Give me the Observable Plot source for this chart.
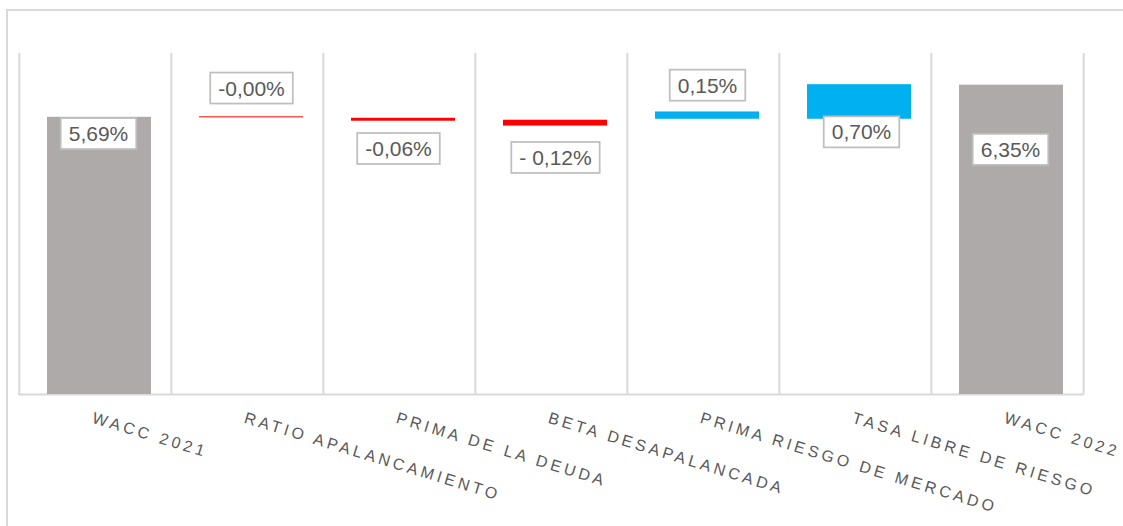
<!DOCTYPE html>
<html><head><meta charset="utf-8">
<script src="https://cdn.jsdelivr.net/npm/d3@7"></script>
<script src="https://cdn.jsdelivr.net/npm/@observablehq/plot@0.6"></script>
<style>
html,body{margin:0;padding:0;background:#fff;overflow:hidden;width:1123px;height:526px;}
#frame{position:absolute;left:6px;top:9px;width:1200px;height:600px;border:2px solid #d9d9d9;box-sizing:border-box;}
#chart{position:absolute;left:0;top:0;}
</style></head><body>
<div id="frame"></div>
<div id="chart"></div>
<script>
// ---- data ----
const categories = ["WACC 2021","RATIO APALANCAMIENTO","PRIMA DE LA DEUDA","BETA DESAPALANCADA","PRIMA RIESGO DE MERCADO","TASA LIBRE DE RIESGO","WACC 2022"];
const barStart = [0, 5.70, 5.67, 5.63, 5.65, 5.65, 0];
const barEnd   = [5.69, 5.68, 5.61, 5.51, 5.80, 6.36, 6.35];
const kinds    = ["total","decrease","decrease","decrease","increase","increase","total"];
const labels   = ["5,69%","-0,00%","-0,06%","- 0,12%","0,15%","0,70%","6,35%"];

// ---- layout (pixel offsets of value labels from bar top) ----
const labelDy = [17, -28, 31, 38, -26, 48, 65];
const labelDx = [-1, 0, -5, 0, 0, 2, -1];

const W = 1123, H = 526, mL = 18, mR = 39, mT = 53, mB = 132;
const step = (W - mL - mR) / categories.length;

const rows = categories.map((c, i) => ({
  cat: c, y1: barStart[i], y2: barEnd[i], kind: kinds[i], label: labels[i],
  top: Math.max(barStart[i], barEnd[i])
}));

const sep = {stroke: "#d9d9d9", strokeWidth: 2};

const svg = Plot.plot({
  width: W, height: H,
  marginLeft: mL, marginRight: mR, marginTop: mT, marginBottom: mB,
  style: {fontFamily: "Liberation Sans, Arial, sans-serif", background: "transparent"},
  x: {type: "band", domain: categories, padding: 0, axis: null},
  y: {domain: [0, 7], axis: null},
  color: {domain: ["total","decrease","increase"], range: ["#AEAAAA","#FF0000","#00B0F0"]},
  marks: [
    Plot.ruleX(categories, {x: d => d, dx: -step / 2, ...sep}),
    Plot.ruleX([categories[categories.length - 1]], {x: d => d, dx: step / 2, ...sep}),
    Plot.ruleY([0], sep),
    Plot.barY(rows, {x: "cat", y1: "y1", y2: "y2", fill: "kind", insetLeft: 24, insetRight: 24, dx: 4}),
    ...rows.map((r, i) => Plot.text([r], {
      x: "cat", y: "top", text: "label", dx: 4 + labelDx[i], dy: labelDy[i],
      fontSize: 21, fill: "#595959", lineAnchor: "middle", ariaDescription: "value-label"
    })),
    Plot.text(categories, {
      x: d => d, frameAnchor: "bottom", dx: -1, dy: 17, rotate: 17,
      textAnchor: "start", lineAnchor: "top", fontSize: 16, fill: "#595959",
      ariaDescription: "cat-label"
    })
  ]
});

document.getElementById("chart").append(svg);

const root = d3.select(svg);
root.selectAll('g[aria-description="cat-label"] text').attr("letter-spacing", "3.5px");

root.selectAll('g[aria-description="value-label"] text').each(function () {
  const b = this.getBBox();
  const padX = 8, padY = 4;
  const r = document.createElementNS("http://www.w3.org/2000/svg", "rect");
  r.setAttribute("x", b.x - padX);
  r.setAttribute("y", b.y - padY);
  r.setAttribute("width", b.width + 2 * padX);
  r.setAttribute("height", b.height + 2 * padY);
  r.setAttribute("fill", "#ffffff");
  r.setAttribute("stroke", "#bfbfbf");
  r.setAttribute("stroke-width", "1.75");
  const t = this.getAttribute("transform");
  if (t) r.setAttribute("transform", t);
  this.parentNode.insertBefore(r, this);
});
</script>
</body></html>
